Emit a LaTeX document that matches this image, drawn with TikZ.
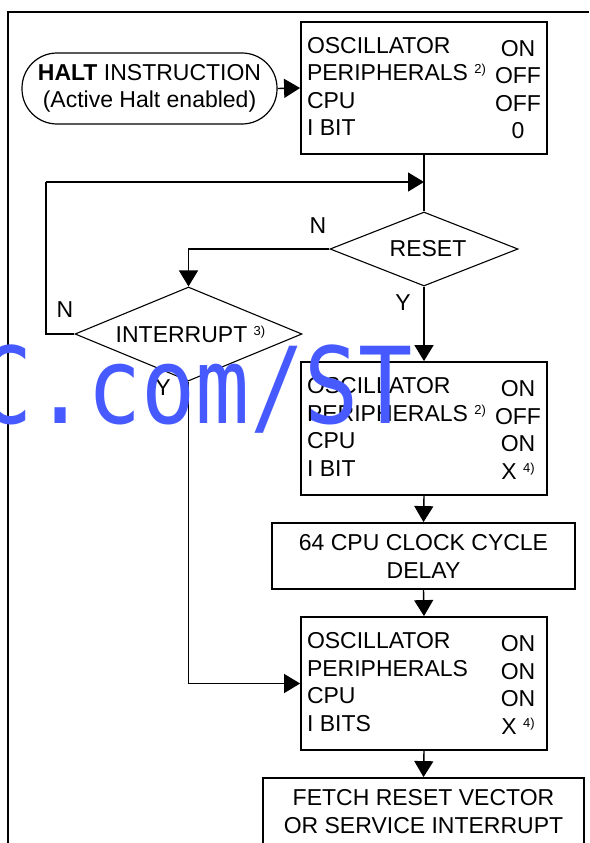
\documentclass[tikz,border=0pt]{standalone}
\usepackage{fontspec}
\setmainfont{Liberation Sans}
\newfontfamily\wmfont{DejaVu Sans Mono}
\usetikzlibrary{arrows.meta,shapes.geometric}
\definecolor{wmblue}{RGB}{70,90,255}
\newcommand\fnm[1]{{\fontsize{13}{13}\selectfont\raisebox{7pt}{#1)}}}
\newcommand\rowx[2]{\hbox to 246pt{\hspace{6pt}\makebox[182pt][l]{#1}\makebox[58pt][c]{\raisebox{-3pt}{#2}}\hfil}}
\begin{document}
\begin{tikzpicture}[x=1pt,y=-1pt,
  every node/.style={font=\fontsize{23}{27.6}\selectfont},
  box/.style={draw, line width=1.8pt, inner sep=0pt, minimum width=246pt, align=left},
  cbox/.style={draw, line width=1.8pt, inner sep=0pt, align=center},
  dec/.style={draw, diamond, line width=1.1pt, inner sep=0pt, aspect=2.5},
  conn/.style={line width=1.4pt},
  arr/.style={conn, -{Triangle[length=16pt,width=19pt]}},
  lbl/.style={inner sep=0pt}]
\useasboundingbox (0,0) rectangle (589,843);
% frame
\draw[line width=2pt] (8,843) -- (8,12) -- (589,12);
% nodes
\node[draw, line width=1.2pt, rounded corners=35pt, minimum width=255pt, minimum height=71pt, inner sep=0pt, align=center,
  font=\fontsize{23}{26.5}\selectfont] (halt) at (149.5,88.5) {\textbf{HALT} INSTRUCTION\\(Active Halt enabled)};
\node[box, minimum height=132pt] (b1) at (424,88) {\rowx{OSCILLATOR}{ON}\\\rowx{PERIPHERALS \fnm{2}}{OFF}\\\rowx{CPU}{OFF}\\\rowx{I BIT}{0}};
\node[dec, minimum width=188pt, minimum height=74pt] (reset) at (424,249) {\hspace*{8pt}RESET};
\node[dec, minimum width=227pt, minimum height=94pt] (intr) at (188.5,334) {\hspace*{4pt}INTERRUPT \fnm{3}};
\node[box, minimum height=133pt] (b2) at (424,428.5) {\rowx{OSCILLATOR}{ON}\\\rowx{PERIPHERALS \fnm{2}}{OFF}\\\rowx{CPU}{ON}\\\rowx{I BIT}{X \fnm{4}}};
\node[cbox, minimum width=303pt, minimum height=66pt, font=\fontsize{23}{28}\selectfont] (delay) at (423.5,556) {64 CPU CLOCK CYCLE\\DELAY};
\node[box, minimum height=133pt] (b3) at (424,683.5) {\rowx{OSCILLATOR}{ON}\\\rowx{PERIPHERALS}{ON}\\\rowx{CPU}{ON}\\\rowx{I BITS}{X \fnm{4}}};
\node[cbox, minimum width=321pt, minimum height=68pt, font=\fontsize{23}{28}\selectfont] (fetch) at (423.5,812) {FETCH RESET VECTOR\\OR SERVICE INTERRUPT};
% labels
\node[lbl] (nr) at (318,226) {N};
\node[lbl] (yr) at (403,303) {Y};
\node[lbl] (ni) at (65,310) {N};
\node[lbl] (yi) at (163,388) {Y};
% junction coordinates
\coordinate (j) at (424,182);
\coordinate (lp) at (46,182);
% connectors
\draw[arr] (halt.east) -- (b1.west);
\draw[conn] (b1.south) -- (reset.north);
\draw[arr] (reset.west) -| (intr.north);
\draw[conn] (intr.west) -| (lp);
\draw[arr] (lp) -- (j);
\draw[arr] (reset.south) -- (b2.north);
\draw[arr] (b2.south) -- (delay.north);
\draw[arr] (delay.south) -- (b3.north);
\draw[arr] (intr.south) |- (b3.west);
\draw[arr] (b3.south) -- (fetch.north);
% watermark
\node[anchor=base east, inner sep=0pt, xscale=0.85, text=wmblue, font=\wmfont\fontsize{106}{106}\selectfont] (wm) at (413,423) {C.com/ST};
\end{tikzpicture}
\end{document}
